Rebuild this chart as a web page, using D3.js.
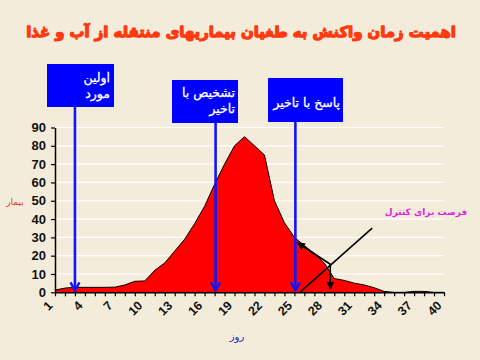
<!DOCTYPE html>
<html><head><meta charset="utf-8">
<script src="https://cdn.jsdelivr.net/npm/d3@7"></script>
<style>
html,body{margin:0;padding:0;background:#f4ecda;}
svg{display:block;}
</style></head>
<body>
<svg id="c" width="480" height="360"></svg>
<script>
// ---- data ----
const days = [1,2,3,4,5,6,7,8,9,10,11,12,13,14,15,16,17,18,19,20,21,22,23,24,25,26,27,28,29,30,31,32,33,34,35,36,37,38,39,40];
const cases = [1.2,2.3,2.7,2.7,2.7,2.7,2.8,4,6,6.2,12,16,22.5,29,37.5,47,59,70,80,85,80,75,50,38,30,25.5,21,16,7.5,6.5,5,4,2.5,0.5,0,0,0.5,0.5,0,0];
const yTicks = [0,10,20,30,40,50,60,70,80,90];
const xTickLabels = [1,4,7,10,13,16,19,22,25,28,31,34,37,40];
const title = "اهمیت زمان واکنش به طغیان بیماریهای منتقله از آب و غذا";
const yTitle = "بیمار";
const xTitle = "روز";
const markerDays = [3, 17.1, 25.1];
const markerLabels = [["اولین","مورد"],["تشخیص با","تاخیر"],["پاسخ با تاخیر"]];
const controlLabel = "فرصت برای کنترل";
// control annotation in data units
const ctrlDiag = [[25.6,0.2],[32.8,35]];
const ctrlBranch = [28.6,15.3];
const ctrlArrowUp = [25.4,26.8];
const ctrlArrowDown = [28.6,2.3];

// ---- layout ----
const svg = d3.select("#c");
const L = 55, R = 444, T = 127.5, B = 292.3;
const x = d3.scaleLinear().domain([1,40]).range([L,R]);
const y = d3.scaleLinear().domain([0,90]).range([B,T]);

svg.append("rect").attr("width",480).attr("height",360).attr("fill","#f4ecda");

// gridlines
svg.append("g").selectAll("line").data(yTicks.filter(d=>d>0)).join("line")
  .attr("x1",L).attr("x2",R).attr("y1",d=>y(d)).attr("y2",d=>y(d))
  .attr("stroke","#ffffff").attr("stroke-width",1.2);

// area
const area = d3.area().x((d,i)=>x(days[i])).y0(y(0)).y1(d=>y(d));
svg.append("path").datum(cases).attr("d",area).attr("fill","#ff0000");
const line = d3.line().x((d,i)=>x(days[i])).y(d=>y(d));
svg.append("path").datum(cases).attr("d",line).attr("fill","none").attr("stroke","#000").attr("stroke-width",1);

// y axis
const yAxis = d3.axisLeft(y).tickValues(yTicks).tickSize(4).tickSizeOuter(0);
const gy = svg.append("g").attr("transform",`translate(${L},0)`).call(yAxis);
gy.select(".domain").attr("stroke","#000").attr("stroke-width",1.5);
gy.selectAll(".tick line").attr("stroke","#000").attr("stroke-width",1.2);
gy.selectAll(".tick text").attr("font-family","Liberation Sans, Arial, sans-serif")
  .attr("font-weight","bold").attr("font-size",13).attr("fill","#111").attr("x",-9);

// x axis
const xAxis = d3.axisBottom(x).tickValues(days).tickSize(4).tickSizeOuter(0)
  .tickFormat(d=> xTickLabels.includes(d) ? d : "");
const gx = svg.append("g").attr("transform",`translate(0,${B})`).call(xAxis);
gx.select(".domain").attr("stroke","#000").attr("stroke-width",1.5);
gx.selectAll(".tick line").attr("stroke","#000").attr("stroke-width",1.2);
gx.selectAll(".tick text").attr("font-family","Liberation Sans, Arial, sans-serif")
  .attr("font-weight","bold").attr("font-size",12.5).attr("fill","#111")
  .attr("text-anchor","end").attr("dy",0).attr("y",0)
  .attr("transform","translate(-2,14) rotate(-45)");

// axis titles
svg.append("text").attr("x",15).attr("y",205).attr("text-anchor","middle")
  .attr("font-family","DejaVu Sans, sans-serif").attr("font-size",9).attr("fill","#e8341c")
  .text(yTitle);
svg.append("text").attr("x",237).attr("y",340).attr("text-anchor","middle")
  .attr("font-family","DejaVu Sans, sans-serif").attr("font-size",10).attr("fill","#1a1acc")
  .text(xTitle);

// title, fitted to width
const tt = svg.append("text").attr("x",241).attr("y",37).attr("text-anchor","middle")
  .attr("font-family","DejaVu Sans, sans-serif").attr("font-weight","bold")
  .attr("font-size",20).attr("fill","#ff3a10").attr("stroke","#ff3a10").attr("stroke-width",1.3)
  .attr("stroke-linejoin","round").attr("direction","rtl").text(title);
{
  const w = tt.node().getComputedTextLength();
  tt.attr("font-size",20*430/w);
}

// marker boxes + blue arrows
const boxes = [
  {x0:47, x1:114, y0:64, y1:107, lines:[82,98], tx:110},
  {x0:172, x1:238, y0:80, y1:123, lines:[97,113], tx:235},
  {x0:268, x1:343, y0:78, y1:122, lines:[107], tx:340}
];
const blue = "#1414f5";
markerDays.forEach((d,i)=>{
  const b = boxes[i], ax = x(d), yEnd = B-2;
  svg.append("line").attr("x1",ax).attr("x2",ax).attr("y1",b.y1).attr("y2",yEnd)
    .attr("stroke",blue).attr("stroke-width",2.6);
  svg.append("path").attr("d",`M${ax-4.5},${yEnd-8}L${ax},${yEnd}L${ax+4.5},${yEnd-8}`)
    .attr("fill","none").attr("stroke",blue).attr("stroke-width",2.4);
  svg.append("rect").attr("x",b.x0).attr("y",b.y0).attr("width",b.x1-b.x0).attr("height",b.y1-b.y0)
    .attr("fill","#0000ff");
  markerLabels[i].forEach((t,j)=>{
    svg.append("text").attr("x",b.tx).attr("y",b.lines[j]).attr("text-anchor","start")
      .attr("direction","rtl")
      .attr("font-family","DejaVu Sans, sans-serif").attr("font-size",12.5).attr("fill","#fff")
      .attr("stroke","#fff").attr("stroke-width",0.3)
      .text(t);
  });
});

// control annotation (black)
const P = p=>[x(p[0]),y(p[1])];
const g = svg.append("g").attr("stroke","#000").attr("stroke-width",1.6).attr("fill","none");
g.append("line").attr("x1",P(ctrlDiag[0])[0]).attr("y1",P(ctrlDiag[0])[1])
  .attr("x2",P(ctrlDiag[1])[0]).attr("y2",P(ctrlDiag[1])[1]);
function arrow(from,to){
  const a=P(from), b=P(to);
  g.append("line").attr("x1",a[0]).attr("y1",a[1]).attr("x2",b[0]).attr("y2",b[1]);
  const ang=Math.atan2(b[1]-a[1],b[0]-a[0]), s=6, w=0.45;
  g.append("path").attr("d",`M${b[0]-s*Math.cos(ang-w)},${b[1]-s*Math.sin(ang-w)}L${b[0]},${b[1]}L${b[0]-s*Math.cos(ang+w)},${b[1]-s*Math.sin(ang+w)}Z`)
    .attr("fill","#000");
}
arrow(ctrlBranch, ctrlArrowUp);
arrow(ctrlBranch, ctrlArrowDown);

svg.append("text").attr("x",426).attr("y",215).attr("text-anchor","middle")
  .attr("font-family","DejaVu Sans, sans-serif").attr("font-weight","bold").attr("font-size",9)
  .attr("fill","#e01ee0").text(controlLabel);
</script>
</body></html>
